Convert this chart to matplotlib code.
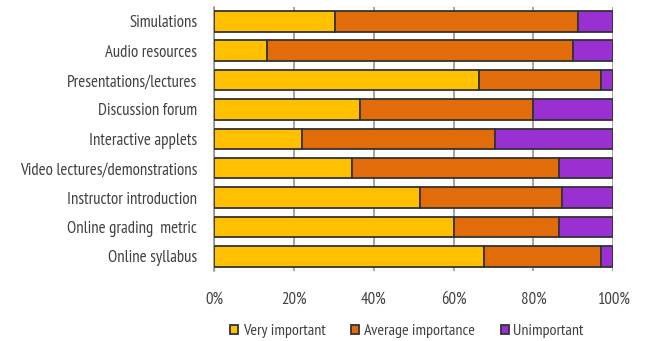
import matplotlib
matplotlib.use("Agg")
import matplotlib.pyplot as plt
import numpy as np

plt.rcParams['font.family'] = ['PT Sans Narrow', 'Roboto Condensed', 'DejaVu Sans']

categories = [
    "Simulations",
    "Audio resources",
    "Presentations/lectures",
    "Discussion forum",
    "Interactive applets",
    "Video lectures/demonstrations",
    "Instructor introduction",
    "Online grading  metric",
    "Online syllabus",
]
very_important = [30.3, 13.3, 66.4, 36.5, 22.0, 34.5, 51.5, 60.0, 67.6]
average_importance = [60.9, 76.6, 30.4, 43.5, 48.3, 51.8, 35.6, 26.5, 29.2]
unimportant = [8.8, 10.1, 3.2, 20.0, 29.7, 13.7, 12.9, 13.5, 3.2]
series_names = ["Very important", "Average importance", "Unimportant"]
tick_labels = ["0%", "20%", "40%", "60%", "80%", "100%"]

colors = ["#FFC000", "#E36C0A", "#9A30D2"]
text_color = "#404040"

fig = plt.figure(figsize=(6.46, 3.41), dpi=100)
ax = fig.add_axes([0.3313, 0.2053, 0.9494 - 0.3313, 0.9806 - 0.2053])

y = np.arange(len(categories))
left = np.zeros(len(categories))
handles = []
for vals, name, col in zip([very_important, average_importance, unimportant], series_names, colors):
    vals = np.array(vals)
    b = ax.barh(y, vals, left=left, height=0.7, color=col, edgecolor="#333333",
                linewidth=1.3, label=name, zorder=3)
    handles.append(b)
    left = left + vals

ax.set_xlim(0, 100)
ax.set_ylim(len(categories) - 0.5, -0.5)
ax.set_yticks(y)
ax.set_yticklabels(categories, fontsize=12.1, color=text_color)
ax.set_xticks(np.arange(0, 101, 20))
ax.set_xticklabels(tick_labels, fontsize=12, color=text_color)
ax.tick_params(axis='y', length=0, pad=12)
ax.tick_params(axis='x', length=0, pad=15)
ax.grid(axis='x', color="#8c8c8c", linewidth=1.1, zorder=0)
for s in ["top", "right", "bottom"]:
    ax.spines[s].set_visible(False)
ax.spines["left"].set_color("#8c8c8c")
ax.spines["left"].set_linewidth(1.1)

leg = fig.legend(handles=handles, labels=series_names, loc="center",
                 bbox_to_anchor=(0.63, 0.029), ncol=3, frameon=False,
                 fontsize=11.5, handlelength=0.5, handleheight=0.5,
                 handletextpad=0.3, columnspacing=1.6)
for t in leg.get_texts():
    t.set_color(text_color)

fig.savefig("out.png", dpi=100)
